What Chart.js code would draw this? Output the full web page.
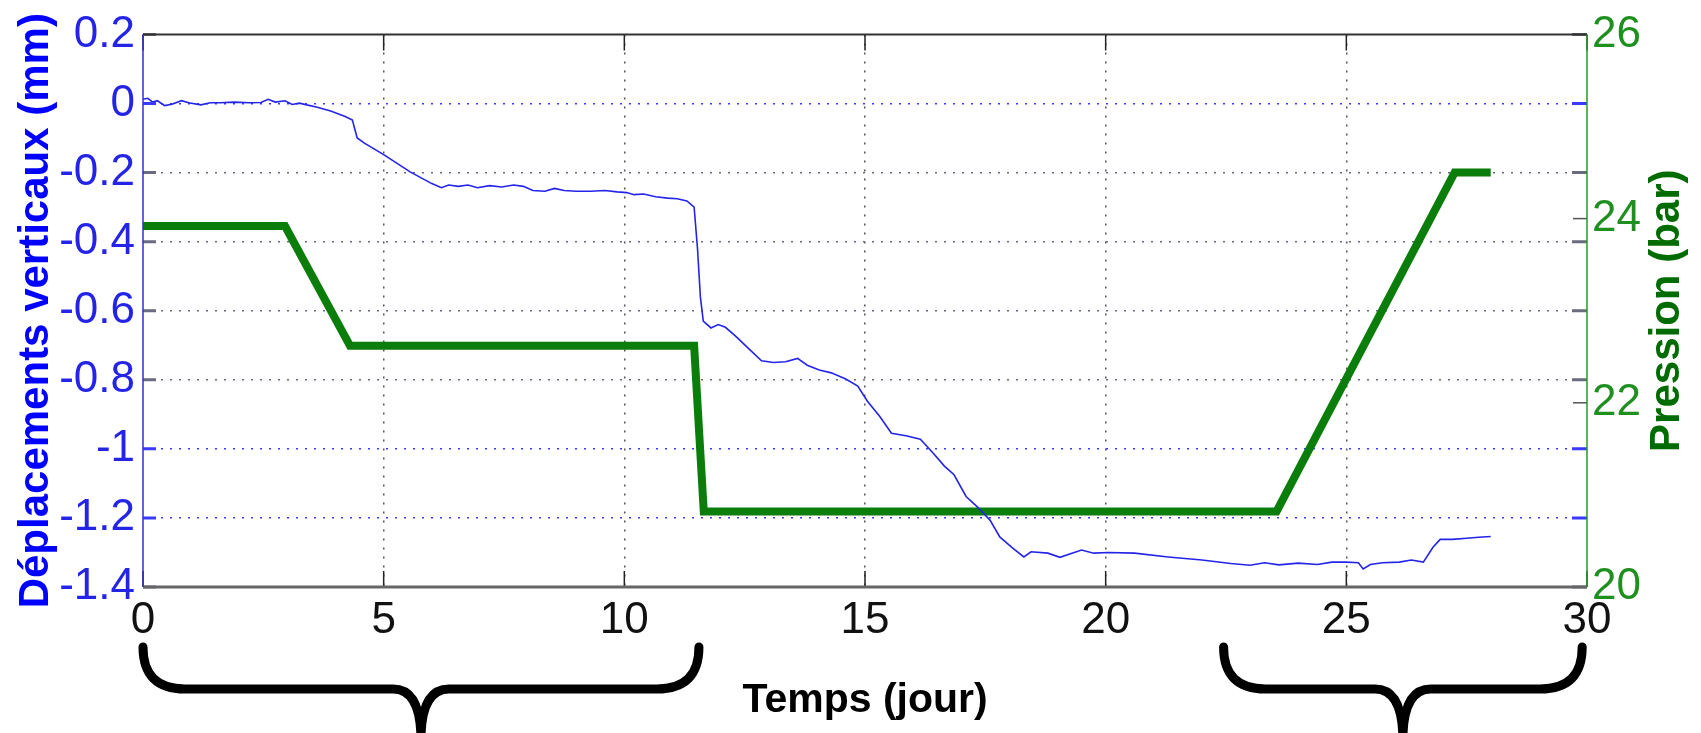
<!DOCTYPE html>
<html>
<head>
<meta charset="utf-8">
<title>Déplacements verticaux et pression</title>
<script src="https://cdn.jsdelivr.net/npm/chart.js@4.4.0/dist/chart.umd.min.js"></script>
<style>
    html, body { margin: 0; padding: 0; background: #fff; }
    #wrap { width: 1701px; height: 733px; }
</style>
</head>
<body>
<div id="wrap"><canvas id="chart" width="1701" height="733"></canvas></div>
<script>
// Vertical displacement (mm) against time (days)
const dispDays = [
    0.00, 0.10, 0.20, 0.30, 0.45, 0.60, 0.80, 0.95, 1.20, 1.40,
    1.60, 1.90, 2.20, 2.45, 2.60, 2.75, 2.95, 3.10, 3.25, 3.40,
    3.60, 3.90, 4.20, 4.35, 4.45, 4.60, 5.00, 5.55, 6.00, 6.20,
    6.35, 6.55, 6.75, 6.95, 7.20, 7.45, 7.70, 7.90, 8.10, 8.35,
    8.55, 8.75, 9.00, 9.30, 9.60, 9.85, 10.05, 10.20, 10.40, 10.65,
    10.90, 11.10, 11.30, 11.45, 11.52, 11.58, 11.64, 11.80, 11.95, 12.10,
    12.30, 12.60, 12.85, 13.10, 13.35, 13.60, 13.80, 14.05, 14.30, 14.60,
    14.85, 15.05, 15.30, 15.55, 15.85, 16.15, 16.40, 16.65, 16.85, 17.10,
    17.35, 17.60, 17.80, 18.05, 18.30, 18.45, 18.80, 19.05, 19.30, 19.50,
    19.75, 20.05, 20.60, 21.30, 22.00, 22.60, 23.00, 23.30, 23.60, 24.00,
    24.40, 24.70, 25.00, 25.25, 25.35, 25.50, 25.75, 26.10, 26.35, 26.60,
    26.80, 26.95, 27.20, 27.50, 27.75, 28.00
];
const dispValues = [
    0.012, 0.015, 0.004, 0.008, -0.006, -0.002, 0.008, 0.002, -0.004, 0.002,
    0.002, 0.004, 0.002, 0.003, 0.012, 0.004, 0.008, -0.003, 0.001, -0.004,
    -0.010, -0.022, -0.038, -0.048, -0.100, -0.115, -0.148, -0.198, -0.232, -0.244,
    -0.236, -0.240, -0.236, -0.244, -0.238, -0.242, -0.236, -0.240, -0.252, -0.254,
    -0.246, -0.252, -0.254, -0.254, -0.252, -0.256, -0.258, -0.264, -0.262, -0.270,
    -0.274, -0.276, -0.282, -0.300, -0.420, -0.560, -0.630, -0.650, -0.640, -0.648,
    -0.672, -0.712, -0.745, -0.750, -0.748, -0.738, -0.758, -0.772, -0.780, -0.798,
    -0.818, -0.862, -0.905, -0.955, -0.962, -0.972, -1.010, -1.050, -1.075, -1.138,
    -1.170, -1.207, -1.255, -1.285, -1.313, -1.298, -1.302, -1.314, -1.302, -1.293,
    -1.302, -1.300, -1.302, -1.313, -1.322, -1.332, -1.337, -1.330, -1.336, -1.331,
    -1.335, -1.328, -1.328, -1.330, -1.348, -1.335, -1.330, -1.328, -1.322, -1.328,
    -1.285, -1.262, -1.262, -1.259, -1.256, -1.254
];

// Applied pressure (bar)
const pressDays = [0, 2.95, 4.3, 11.45, 11.65, 23.55, 27.25, 28];
const pressValues = [23.92, 23.92, 22.62, 22.62, 20.82, 20.82, 24.5, 24.5];

// Axis ticks
const dayTicks = [0, 5, 10, 15, 20, 25, 30];
const dispTicks = [0.2, 0, -0.2, -0.4, -0.6, -0.8, -1, -1.2, -1.4];
const pressTicks = [20, 22, 24, 26];
const blueGridValues = [0, -1, -1.2];

// Curly braces under the time axis (start day, end day)
const braceStarts = [0, 22.45];
const braceEnds = [11.55, 29.9];

const BLUE = '#2424e8';
const GREEN = '#0a7d0a';
const TICK_FONT = "'Liberation Sans', Arial, sans-serif";
const TITLE_FONT = "'Liberation Sans', Arial, sans-serif";

function near(a, b) {
    return Math.abs(a - b) < 1e-6;
}

function dispGridColor(v) {
    return blueGridValues.some(b => near(b, v)) ? '#3a3aff' : '#6a6a80';
}

function drawBrace(ctx, x0, x1, yTop, yMid, yTip) {
    const xm = (x0 + x1) / 2;
    const r = yMid - yTop;
    const tipW = 28;
    ctx.beginPath();
    ctx.moveTo(x0, yTop);
    ctx.quadraticCurveTo(x0, yMid, x0 + r, yMid);
    ctx.lineTo(xm - tipW, yMid);
    ctx.quadraticCurveTo(xm, yMid, xm, yTip);
    ctx.moveTo(x1, yTop);
    ctx.quadraticCurveTo(x1, yMid, x1 - r, yMid);
    ctx.lineTo(xm + tipW, yMid);
    ctx.quadraticCurveTo(xm, yMid, xm, yTip);
    ctx.stroke();
}

// Frame, inward tick marks, right title and braces
const framePlugin = {
    id: 'frame',
    afterDraw(chart) {
        const { ctx, chartArea: a } = chart;
        const { x, y, y1 } = chart.scales;
        ctx.save();
        ctx.lineCap = 'butt';

        // x ticks, bottom and top
        ctx.strokeStyle = '#222';
        ctx.lineWidth = 1.5;
        dayTicks.forEach(v => {
            const px = x.getPixelForValue(v);
            ctx.beginPath();
            ctx.moveTo(px, a.bottom);
            ctx.lineTo(px, a.bottom - 16);
            ctx.moveTo(px, a.top);
            ctx.lineTo(px, a.top + 16);
            ctx.stroke();
        });

        // left axis ticks on both sides
        ctx.lineWidth = 3;
        dispTicks.forEach(v => {
            const py = y.getPixelForValue(v);
            ctx.strokeStyle = dispGridColor(v);
            ctx.beginPath();
            ctx.moveTo(a.left, py);
            ctx.lineTo(a.left + 13, py);
            ctx.moveTo(a.right, py);
            ctx.lineTo(a.right - 15, py);
            ctx.stroke();
        });

        // right axis ticks
        ctx.lineWidth = 1.5;
        ctx.strokeStyle = '#555';
        pressTicks.forEach(v => {
            const py = y1.getPixelForValue(v);
            ctx.beginPath();
            ctx.moveTo(a.right, py);
            ctx.lineTo(a.right - 14, py);
            ctx.stroke();
        });

        // frame
        ctx.lineWidth = 2;
        ctx.strokeStyle = '#333';
        ctx.beginPath();
        ctx.moveTo(a.left, a.top);
        ctx.lineTo(a.right, a.top);
        ctx.stroke();
        ctx.lineWidth = 3;
        ctx.strokeStyle = '#666';
        ctx.beginPath();
        ctx.moveTo(a.left, a.bottom);
        ctx.lineTo(a.right, a.bottom);
        ctx.stroke();
        ctx.lineWidth = 1.5;
        ctx.strokeStyle = '#3030c8';
        ctx.beginPath();
        ctx.moveTo(a.left, a.top);
        ctx.lineTo(a.left, a.bottom);
        ctx.stroke();
        ctx.strokeStyle = '#2a9a2a';
        ctx.beginPath();
        ctx.moveTo(a.right, a.top);
        ctx.lineTo(a.right, a.bottom);
        ctx.stroke();

        // right axis title, reading bottom to top
        ctx.fillStyle = '#006b00';
        ctx.font = 'bold 42px ' + TITLE_FONT;
        ctx.textAlign = 'center';
        ctx.textBaseline = 'middle';
        ctx.translate(1667, (a.top + a.bottom) / 2);
        ctx.rotate(-Math.PI / 2);
        ctx.fillText('Pression (bar)', 0, 0);
        ctx.setTransform(1, 0, 0, 1, 0, 0);

        // braces
        ctx.strokeStyle = '#000';
        ctx.lineWidth = 9;
        ctx.lineCap = 'round';
        ctx.lineJoin = 'round';
        braceStarts.forEach((s, i) => {
            drawBrace(ctx, x.getPixelForValue(s), x.getPixelForValue(braceEnds[i]), 647, 689, 740);
        });
        ctx.restore();
    }
};

const ctx = document.getElementById('chart').getContext('2d');
new Chart(ctx, {
    type: 'line',
    data: {
        datasets: [{
            label: 'Déplacements verticaux',
            data: dispDays.map((d, i) => ({ x: d, y: dispValues[i] })),
            yAxisID: 'y',
            borderColor: BLUE,
            borderWidth: 1.6,
            pointRadius: 0,
            tension: 0
        }, {
            label: 'Pression',
            data: pressDays.map((d, i) => ({ x: d, y: pressValues[i] })),
            yAxisID: 'y1',
            borderColor: GREEN,
            borderWidth: 8,
            pointRadius: 0,
            tension: 0,
            borderJoinStyle: 'miter'
        }]
    },
    options: {
        responsive: false,
        animation: false,
        events: [],
        layout: { padding: { top: 32, left: 0, right: 0, bottom: 0 } },
        plugins: {
            legend: { display: false },
            tooltip: { enabled: false }
        },
        scales: {
            x: {
                type: 'linear',
                min: 0,
                max: 30,
                afterBuildTicks: s => { s.ticks = dayTicks.map(v => ({ value: v })); },
                afterFit: s => { s.height = 146; },
                border: { display: false, dash: [2, 7] },
                grid: {
                    drawTicks: false,
                    lineWidth: 1.5,
                    color: c => (c.tick && (c.tick.value === 0 || c.tick.value === 30)) ? 'transparent' : '#555'
                },
                ticks: {
                    color: '#111',
                    padding: 7,
                    maxRotation: 0,
                    font: { family: TICK_FONT, size: 44 }
                },
                title: {
                    display: true,
                    text: 'Temps (jour)',
                    color: '#000',
                    padding: { top: 0, bottom: 8 },
                    font: { family: TITLE_FONT, size: 41, weight: 'bold' }
                }
            },
            y: {
                position: 'left',
                min: -1.4,
                max: 0.2,
                afterBuildTicks: s => { s.ticks = dispTicks.map(v => ({ value: v })); },
                afterFit: s => { s.width = 143; },
                border: { display: false, dash: [2, 7] },
                grid: {
                    drawTicks: false,
                    lineWidth: 1.5,
                    color: c => {
                        const v = c.tick ? c.tick.value : null;
                        if (v === null || near(v, 0.2) || near(v, -1.4)) return 'transparent';
                        return dispGridColor(v);
                    }
                },
                ticks: {
                    color: BLUE,
                    padding: 8,
                    font: { family: TICK_FONT, size: 44 },
                    callback: v => String(Math.round(v * 10) / 10)
                },
                title: {
                    display: true,
                    text: 'Déplacements verticaux (mm)',
                    color: '#0000ff',
                    padding: { top: 11, bottom: 0 },
                    font: { family: TITLE_FONT, size: 42, weight: 'bold' }
                }
            },
            y1: {
                position: 'right',
                min: 20,
                max: 26,
                afterBuildTicks: s => { s.ticks = pressTicks.map(v => ({ value: v })); },
                afterFit: s => { s.width = 114; },
                border: { display: false },
                grid: { drawOnChartArea: false, drawTicks: false },
                ticks: {
                    color: '#1f8f1f',
                    padding: 5,
                    font: { family: TICK_FONT, size: 44 }
                }
            }
        }
    },
    plugins: [framePlugin]
});
</script>
</body>
</html>
